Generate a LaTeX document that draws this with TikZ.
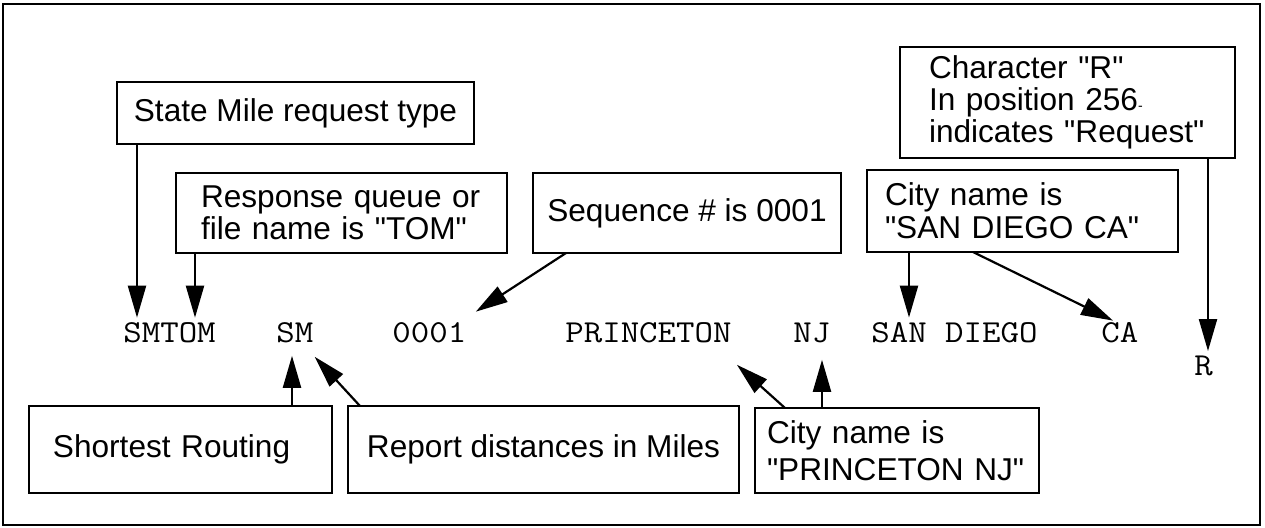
\documentclass[tikz,border=0pt]{standalone}
\usepackage{fontspec}
\newfontfamily\lblfont{Liberation Sans}
\newfontfamily\tokfont{Latin Modern Mono}[FakeStretch=1.12]
\usetikzlibrary{arrows.meta}

\begin{document}
\begin{tikzpicture}[x=0.5pt, y=-0.5pt,
    box/.style={draw, line width=1.2pt, anchor=north west, inner sep=0pt, outer sep=0pt, font=\lblfont\fontsize{15.8pt}{16pt}\selectfont},
    lbox/.style={box, align=left},
    tok/.style={anchor=base west, inner xsep=0pt, inner ysep=2pt, font=\tokfont\fontsize{16pt}{16pt}\selectfont},
    arr/.style={line width=1.1pt, -{Triangle[length=16pt, width=9pt]}}]
    \useasboundingbox (0,0) rectangle (1265,527);
    \draw[line width=1pt] (3,4) rectangle (1260,525);

    \node[box, minimum width=178.5pt, minimum height=31pt] (state) at (117,82) {State Mile request type};
    \node[lbox, minimum width=165.5pt, minimum height=40pt, text width=140.5pt, font=\lblfont\fontsize{15.8pt}{14.5pt}\selectfont] (resp) at (176,173) {Response queue or\\file name is "TOM"};
    \node[box, minimum width=154pt, minimum height=40pt] (seq) at (533,173) {Sequence \# is 0001};
    \node[lbox, minimum width=155.5pt, minimum height=41pt, text width=137.5pt, font=\lblfont\fontsize{15.8pt}{16.5pt}\selectfont] (sd) at (867,170) {City name is\\"SAN DIEGO CA"};
    \node[lbox, minimum width=167.5pt, minimum height=55.5pt, text width=138.5pt] (charR) at (900,47) {Character "R"\\In position 256{\fontsize{7pt}{7pt}\selectfont -}\\indicates "Request"};
    \node[lbox, minimum width=151.5pt, minimum height=43.5pt, text width=127.5pt] (shortest) at (29,406) {Shortest Routing};
    \node[box, minimum width=195.5pt, minimum height=43.5pt] (report) at (348,406) {Report distances in Miles};
    \node[lbox, minimum width=142pt, minimum height=42.5pt, text width=130pt, font=\lblfont\fontsize{15.8pt}{18.5pt}\selectfont] (pbox) at (755,408) {City name is\\"PRINCETON NJ"};

    \node[tok] (smtom) at (123,342) {SMTOM};
    \node[tok] (sm) at (276,342) {SM};
    \node[tok] (num) at (392,342) {0001};
    \node[tok] (princeton) at (565,342) {PRINCETON};
    \node[tok] (nj) at (793,342) {NJ};
    \node[tok] (sandiego) at (871,342) {SAN DIEGO};
    \node[tok] (ca) at (1101,342) {CA};
    \node[tok] (r) at (1194,375) {R};

    \draw[arr] ([xshift=10pt]state.south west) -- ([xshift=7pt]smtom.north west);
    \draw[arr] ([xshift=9.5pt]resp.south west) -- ([xshift=36pt]smtom.north west);
    \draw[arr] ([xshift=16.5pt]seq.south west) -- ([xshift=4.6pt, yshift=3pt]num.north east);
    \draw[arr] ([xshift=21pt]sd.south west) -- ([xshift=19pt]sandiego.north west);
    \draw[arr] ([xshift=53pt]sd.south west) -- ([xshift=6pt, yshift=-1.5pt]ca.north west);
    \draw[arr] ([xshift=-13.5pt]charR.south east) -- ([xshift=7pt]r.north west);
    \draw[arr] ([xshift=-20pt]shortest.north east) -- ([xshift=8pt, yshift=-4.5pt]sm.south west);
    \draw[arr] ([xshift=6pt]report.north west) -- ([xshift=0.5pt, yshift=-5pt]sm.south east);
    \draw[arr] ([xshift=15pt]pbox.north west) -- ([xshift=2.5pt, yshift=-9pt]princeton.south east);
    \draw[arr] ([xshift=33.5pt]pbox.north west) -- ([xshift=14.5pt, yshift=-6.5pt]nj.south west);
\end{tikzpicture}
\end{document}
